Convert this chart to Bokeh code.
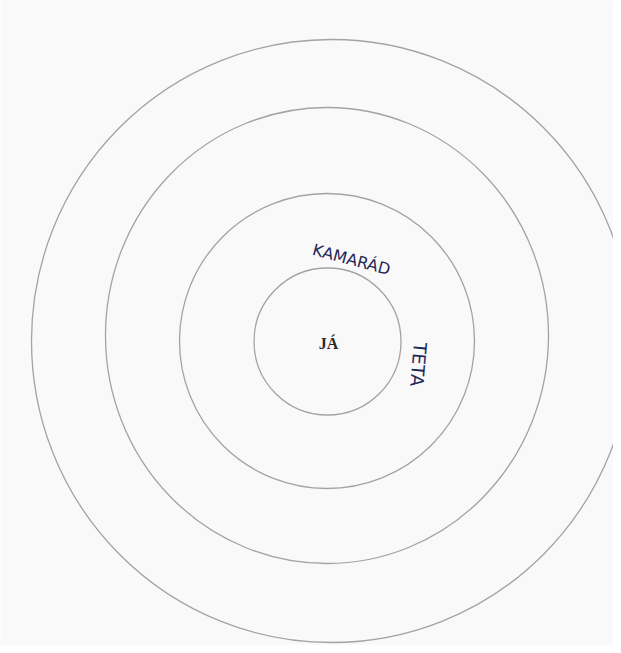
import math
from bokeh.plotting import figure
from bokeh.models import Range1d, ColumnDataSource
from bokeh.core.properties import value
from bokeh.embed import file_html
from bokeh.resources import INLINE

# Rings of the relationship diagram (innermost first), in page units
ring_names = ["ring1", "ring2", "ring3", "ring4"]
ring_cx = [327, 326.5, 326.5, 331]
ring_cy = [312, 312.5, 318, 312.5]
ring_w = [147, 295, 443, 600]
ring_h = [147, 295, 456, 603]

# Labels placed in the rings
label_text = ["JÁ", "KAMARÁD", "TETA"]
label_x = [328, 351, 418]
label_y = [310, 394, 289]
label_angle_deg = [0, -15, -95]

p = figure(width=613, height=645, output_backend="svg", toolbar_location=None,
           x_range=Range1d(0, 613), y_range=Range1d(8, 653), min_border=0)
p.axis.visible = False
p.grid.visible = False
p.outline_line_color = None
p.background_fill_color = "#f9f9f9"
p.border_fill_color = "#ffffff"

rings = ColumnDataSource(dict(x=ring_cx, y=ring_cy, w=ring_w, h=ring_h, name=ring_names))
p.ellipse(x="x", y="y", width="w", height="h", source=rings,
          fill_color=None, line_color="#a3a3a3", line_width=1.3)

# centre label (printed, serif)
p.text(x=label_x[:1], y=label_y[:1], text=label_text[:1],
       text_font=value("Liberation Serif"), text_font_size="16px",
       text_font_style="bold", text_color="#2a2a2a",
       text_align="center", text_baseline="middle")

# handwritten labels
hand = ColumnDataSource(dict(x=label_x[1:], y=label_y[1:], text=label_text[1:],
                             angle=[math.radians(a) for a in label_angle_deg[1:]],
                             size=["16px", "18px"]))
p.text(x="x", y="y", text="text", angle="angle", source=hand,
       text_font=value("DejaVu Sans"), text_font_size="size",
       text_color="#1f2756", text_align="center", text_baseline="middle")

open("out.html", "w").write(file_html(p, INLINE))
